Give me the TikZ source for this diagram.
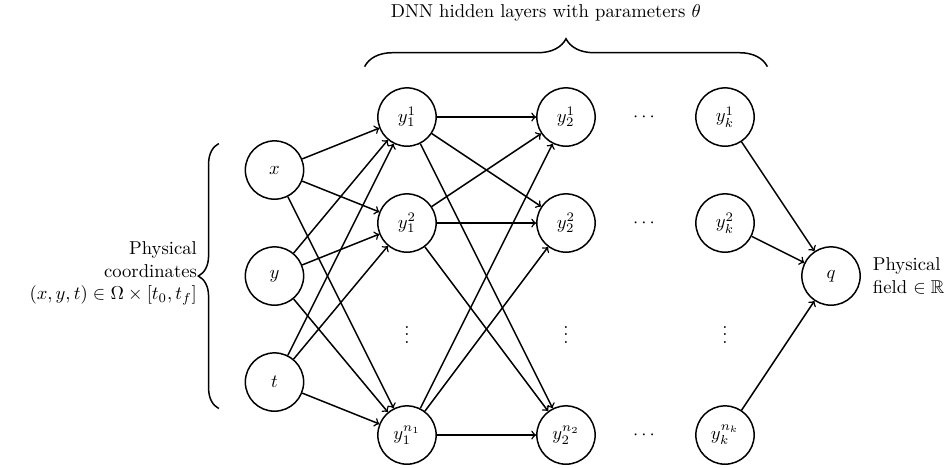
\documentclass[tikz,border=0pt]{standalone}
\usepackage{amsmath,amssymb}
\usetikzlibrary{decorations.pathreplacing}
\begin{document}
\begin{tikzpicture}[
  neuron/.style={circle,draw,thick,minimum size=1.1cm,inner sep=0pt},
  link/.style={->,thick},
  bracedeco/.style={decorate,decoration={brace,amplitude=#1},thick},
  bracedeco/.default=15pt
]
\useasboundingbox (-7.679,-6.604) rectangle (10.264,2.208);

% input layer
\node[neuron] (ix) at (-2.5,-1) {$x$};
\node[neuron] (iy) at (-2.5,-3) {$y$};
\node[neuron] (it) at (-2.5,-5) {$t$};

% first hidden layer
\node[neuron] (a1) at (0,0)  {$y_1^1$};
\node[neuron] (a2) at (0,-2) {$y_1^2$};
\node         (av) at (0,-4) {$\vdots$};
\node[neuron] (an) at (0,-6) {$y_1^{n_1}$};

% second hidden layer
\node[neuron] (b1) at (3,0)  {$y_2^1$};
\node[neuron] (b2) at (3,-2) {$y_2^2$};
\node         (bv) at (3,-4) {$\vdots$};
\node[neuron] (bn) at (3,-6) {$y_2^{n_2}$};

% skipped layers
\node (h1) at (4.5,0)  {$\cdots$};
\node (h2) at (4.5,-2) {$\cdots$};
\node (hn) at (4.5,-6) {$\cdots$};

% last hidden layer
\node[neuron] (k1) at (6,0)  {$y_k^1$};
\node[neuron] (k2) at (6,-2) {$y_k^2$};
\node         (kv) at (6,-4) {$\vdots$};
\node[neuron] (kn) at (6,-6) {$y_k^{n_k}$};

% output
\node[neuron] (q) at (8,-3) {$q$};
\node[anchor=west,align=left,inner sep=2pt,xshift=0.15cm] (qlab) at (q.east) {Physical\\field $\in\mathbb{R}$};

% connections
\foreach \s in {ix,iy,it}
  \foreach \d in {a1,a2,an}
    \draw[link] (\s) -- (\d);
\foreach \s in {a1,a2,an}
  \foreach \d in {b1,b2,bn}
    \draw[link] (\s) -- (\d);
\foreach \s in {k1,k2,kn}
  \draw[link] (\s) -- (q);

% braces
\coordinate (tl) at (-0.8,0.95);
\coordinate (tr) at (6.8,0.95);
\draw[bracedeco] (tl) -- (tr);
\node (toplab) at (2.62,1.96) {DNN hidden layers with parameters $\theta$};

\coordinate (lb) at (-3.55,-5.5);
\coordinate (lt) at (-3.55,-0.5);
\draw[bracedeco=11pt] (lb) -- (lt);
\node[anchor=east,align=right,inner sep=0.5pt] (leftlab) at (-3.94,-2.95)
  {Physical\\coordinates\\$(x,y,t)\in\Omega\times[t_0,t_f]$};
\end{tikzpicture}
\end{document}
